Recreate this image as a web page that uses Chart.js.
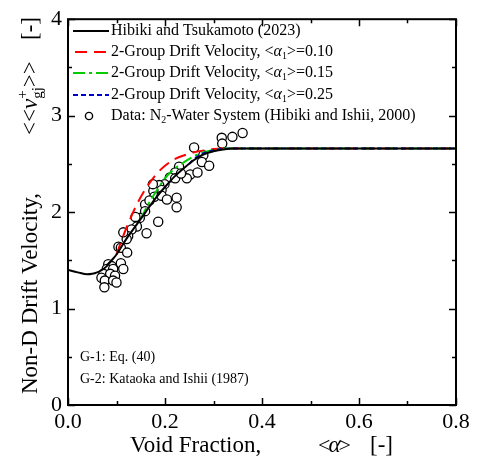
<!DOCTYPE html>
<html><head><meta charset="utf-8">
<script src="https://cdn.jsdelivr.net/npm/chart.js@4/dist/chart.umd.min.js"></script>
<style>html,body{margin:0;padding:0;background:#fff}canvas{display:block}</style>
</head><body>
<canvas id="c" width="479" height="468"></canvas>
<script>
// ---- data ----
const xTicks = [0.0, 0.2, 0.4, 0.6, 0.8];
const yTicks = [0, 1, 2, 3, 4];

// Data: N2-Water System (Hibiki and Ishii, 2000)
const dataAlpha = [0.360,0.339,0.317,0.318,0.260,0.279,0.276,0.291,0.229,0.221,0.252,0.267,0.245,0.210,0.221,
  0.199,0.188,0.193,0.176,0.178,0.193,0.204,0.224,0.224,0.159,0.159,0.148,0.186,0.142,0.131,0.162,0.124,0.121,
  0.104,0.109,0.122,0.083,0.090,0.080,0.093,0.109,0.114,0.073,0.087,0.097,0.069,0.076,0.093,0.100,0.075,
  0.168,0.175,0.139,0.114,0.233];
const dataVgj = [2.82,2.78,2.77,2.71,2.67,2.59,2.52,2.48,2.47,2.41,2.39,2.41,2.35,2.36,2.35,
  2.29,2.28,2.23,2.22,2.16,2.17,2.13,2.15,2.05,2.08,2.01,1.94,1.90,1.85,1.82,1.78,1.75,1.72,
  1.64,1.63,1.58,1.46,1.44,1.41,1.41,1.47,1.41,1.36,1.36,1.34,1.32,1.29,1.29,1.27,1.22,
  2.12,2.29,1.95,1.79,2.40];

// Hibiki and Tsukamoto (2023)
const htAlpha = [0,0.02,0.04,0.05,0.06,0.07,0.08,0.09,0.10,0.12,0.14,0.16,0.18,0.20,0.22,0.24,0.26,0.28,0.30,0.32,0.34,0.36,0.40,0.50,0.60,0.70,0.80];
const htVgj   = [1.40,1.375,1.355,1.36,1.375,1.40,1.44,1.50,1.56,1.72,1.86,2.00,2.14,2.26,2.37,2.46,2.54,2.60,2.63,2.65,2.66,2.66,2.66,2.66,2.66,2.66,2.66];

// 2-Group Drift Velocity, <a1>=0.10
const g10Alpha = [0.10,0.11,0.12,0.14,0.16,0.18,0.20,0.22,0.24,0.26,0.28,0.30,0.32,0.40,0.80];
const g10Vgj   = [1.56,1.70,1.83,2.06,2.24,2.38,2.48,2.55,2.59,2.62,2.64,2.655,2.66,2.66,2.66];
// <a1>=0.15
const g15Alpha = [0.15,0.16,0.17,0.18,0.20,0.22,0.24,0.26,0.28,0.30,0.32,0.40,0.80];
const g15Vgj   = [1.93,2.03,2.12,2.20,2.35,2.45,2.52,2.58,2.62,2.645,2.66,2.66,2.66];
// <a1>=0.25
const g25Alpha = [0.25,0.26,0.28,0.30,0.32,0.34,0.40,0.80];
const g25Vgj   = [2.50,2.55,2.61,2.64,2.655,2.66,2.66,2.66];

const legendLabels = ["Hibiki and Tsukamoto (2023)", "2-Group Drift Velocity, ", "Data: N"];

// ---- helpers ----
const zip = (xs, ys) => xs.map((x, i) => ({x: x, y: ys[i]}));
const SERIF = "'Liberation Serif', 'Times New Roman', serif";
function font(size, italic){ return (italic ? 'italic ' : '') + size + 'px ' + SERIF; }
function drawRuns(ctx, x, y, runs, size){
  runs.forEach(r => {
    if (r.gap) { x += r.gap; return; }
    if (r.stack) {
      const s = r.size || size*0.65;
      ctx.font = font(s, false);
      ctx.fillText(r.stack.sup, x, y - size*0.42);
      ctx.fillText(r.stack.sub, x, y + size*0.22);
      x += Math.max(ctx.measureText(r.stack.sup).width, ctx.measureText(r.stack.sub).width);
      return;
    }
    const s = r.size || size;
    ctx.font = font(s, r.it);
    ctx.fillText(r.t, x, y + (r.dy || 0));
    x += ctx.measureText(r.t).width + (r.kern || 0);
  });
  return x;
}

const decor = {
  id: 'decor',
  afterDatasetsDraw(chart){
    const ctx = chart.ctx, a = chart.chartArea;
    const xs = chart.scales.x, ys = chart.scales.y;
    ctx.save();
    ctx.strokeStyle = '#000'; ctx.fillStyle = '#000';
    ctx.lineWidth = 2;
    ctx.strokeRect(a.left, a.top, a.right - a.left, a.bottom - a.top);
    ctx.lineWidth = 1.5;
    ctx.beginPath();
    for (let v = 0; v <= 0.8001; v += 0.1) {
      const px = Math.round(xs.getPixelForValue(v)) + 0.5;
      const major = Math.abs(Math.round(v*10) % 2) === 0;
      const L = major ? 7 : 4;
      ctx.moveTo(px, a.bottom); ctx.lineTo(px, a.bottom - L);
      ctx.moveTo(px, a.top); ctx.lineTo(px, a.top + L);
    }
    for (let v = 0; v <= 4.001; v += 0.5) {
      const py = Math.round(ys.getPixelForValue(v)) + 0.5;
      const major = Math.abs(v - Math.round(v)) < 1e-6;
      const L = major ? 7 : 4;
      ctx.moveTo(a.left, py); ctx.lineTo(a.left + L, py);
      ctx.moveTo(a.right, py); ctx.lineTo(a.right - L, py);
    }
    ctx.stroke();

    // legend
    const lx0 = 73, lx1 = 109, tx = 111;
    const rows = [31, 52, 73, 95, 116];
    const fs = 16;
    ctx.textBaseline = 'middle';
    ctx.textAlign = 'left';
    const samples = [
      {c:'#000', d:[], w:2},
      {c:'#ff0000', d:[12,7], w:2},
      {c:'#00cc00', d:[12,4,3,4], w:2},
      {c:'#0000cc', d:[5,3], w:2}
    ];
    samples.forEach((s, i) => {
      ctx.save();
      ctx.strokeStyle = s.c; ctx.lineWidth = s.w; ctx.setLineDash(s.d);
      ctx.beginPath(); ctx.moveTo(lx0 + (i===1?2:0), rows[i]); ctx.lineTo(lx1, rows[i]); ctx.stroke();
      ctx.restore();
    });
    ctx.fillStyle = '#000';
    drawRuns(ctx, tx, rows[0], [{t: legendLabels[0]}], fs);
    const a1vals = ['0.10', '0.15', '0.25'];
    a1vals.forEach((v, i) => {
      drawRuns(ctx, tx, rows[i+1], [
        {t: legendLabels[1]}, {t: '<'}, {t: 'α', it: true}, {t: '1', size: fs*0.62, dy: 4}, {t: '>=' + v}
      ], fs);
    });
    ctx.beginPath(); ctx.arc(89, rows[4], 3.6, 0, Math.PI*2);
    ctx.fillStyle = '#fff'; ctx.fill(); ctx.lineWidth = 1.4; ctx.strokeStyle = '#000'; ctx.stroke();
    ctx.fillStyle = '#000';
    drawRuns(ctx, tx, rows[4], [
      {t: legendLabels[2]}, {t: '2', size: fs*0.62, dy: 4}, {t: '-Water System (Hibiki and Ishii, 2000)'}
    ], fs);

    // annotations
    drawRuns(ctx, 80, 357, [{t: 'G-1: Eq. (40)'}], 14);
    drawRuns(ctx, 80, 379, [{t: 'G-2: Kataoka and Ishii (1987)'}], 14);

    // x-axis title
    ctx.textBaseline = 'alphabetic';
    const xfs = 23;
    drawRuns(ctx, 130, 452, [{t: 'Void Fraction,'}], xfs);
    drawRuns(ctx, 318, 452, [{t: '<', size: 22, kern: -2}, {t: 'α', it: true, kern: -2}, {t: '>', size: 22}], xfs);
    drawRuns(ctx, 370, 452, [{t: '[-]'}], xfs);

    // y-axis title (rotated)
    ctx.save();
    ctx.translate(37, 0);
    ctx.rotate(-Math.PI/2);
    drawRuns(ctx, -394, 0, [{t: 'Non-D Drift Velocity,'}], xfs);
    drawRuns(ctx, -135, 0, [{t: '<<'}, {t: 'v', it: true}, {stack: {sup: '+', sub: 'gj'}, size: 15}, {t: '>>'}], xfs);
    drawRuns(ctx, -40, 0, [{t: '[-]'}], xfs);
    ctx.restore();

    ctx.restore();
  }
};

new Chart(document.getElementById('c'), {
  type: 'scatter',
  data: {
    datasets: [
      {label: 'Data', data: zip(dataAlpha, dataVgj), showLine: false,
       pointRadius: 4.6, pointBorderWidth: 1.3, pointBorderColor: '#000', pointBackgroundColor: '#fff', order: 5},
      {label: 'g10', data: zip(g10Alpha, g10Vgj), showLine: true, borderColor: '#ff0000', borderWidth: 2,
       borderDash: [12,7], pointRadius: 0, cubicInterpolationMode: 'monotone', order: 4},
      {label: 'g15', data: zip(g15Alpha, g15Vgj), showLine: true, borderColor: '#00cc00', borderWidth: 2,
       borderDash: [12,4,3,4], pointRadius: 0, cubicInterpolationMode: 'monotone', order: 3},
      {label: 'g25', data: zip(g25Alpha, g25Vgj), showLine: true, borderColor: '#0000cc', borderWidth: 2,
       borderDash: [5,3], pointRadius: 0, cubicInterpolationMode: 'monotone', order: 2},
      {label: 'HT', data: zip(htAlpha, htVgj), showLine: true, borderColor: '#000', borderWidth: 2,
       pointRadius: 0, cubicInterpolationMode: 'monotone', order: 1}
    ]
  },
  options: {
    responsive: false,
    devicePixelRatio: 1,
    animation: false,
    layout: {padding: {left: 0, right: 23, top: 17, bottom: 0}},
    plugins: {legend: {display: false}, tooltip: {enabled: false}},
    scales: {
      x: {
        type: 'linear', min: xTicks[0], max: xTicks[xTicks.length-1],
        afterBuildTicks: s => { s.ticks = xTicks.map(v => ({value: v})); },
        afterFit: s => { s.height = 63; },
        grid: {display: false, drawTicks: false},
        border: {display: false},
        ticks: {color: '#000', padding: 4, font: {family: SERIF, size: 22},
                callback: v => Number(v).toFixed(1), maxRotation: 0, autoSkip: false}
      },
      y: {
        type: 'linear', min: yTicks[0], max: yTicks[yTicks.length-1],
        afterBuildTicks: s => { s.ticks = yTicks.map(v => ({value: v})); },
        afterFit: s => { s.width = 68; },
        grid: {display: false, drawTicks: false},
        border: {display: false},
        ticks: {color: '#000', padding: 6, font: {family: SERIF, size: 22},
                callback: v => String(v), autoSkip: false}
      }
    }
  },
  plugins: [decor]
});
</script>
</body></html>
